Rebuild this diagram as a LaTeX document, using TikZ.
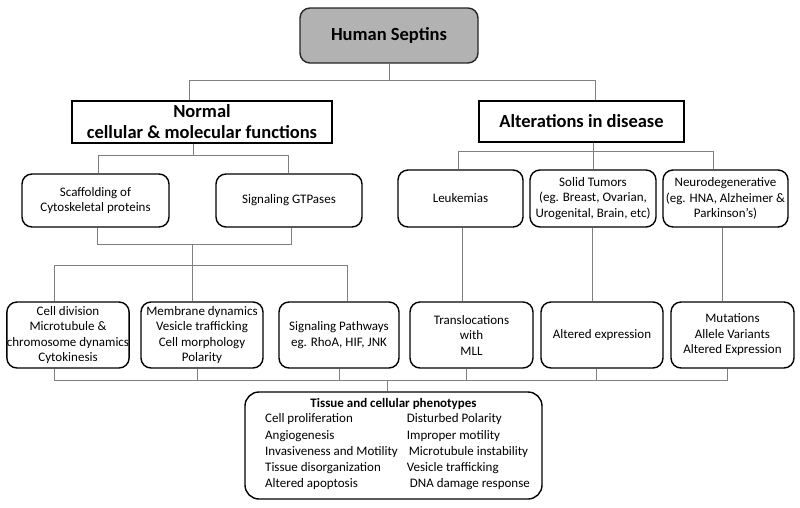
\documentclass[tikz,border=0pt]{standalone}
\usepackage{fontspec}
\setmainfont{Carlito}
\definecolor{wirecol}{RGB}{128,128,128}
\definecolor{headfill}{RGB}{178,178,178}
\begin{document}
\begin{tikzpicture}[x=1pt,y=-1pt,
  rbox/.style={draw=black,line width=1.4pt,rounded corners=10pt,fill=white,inner sep=0pt,align=center,font=\fontsize{13}{15.5}\selectfont},
  sbox/.style={draw=black,line width=2pt,fill=white,inner sep=0pt,align=center,font=\fontsize{18.5}{21}\selectfont\bfseries},
  hbox/.style={draw=black!85,line width=1.4pt,rounded corners=10pt,fill=headfill,inner sep=0pt,align=center,font=\fontsize{18.5}{21}\selectfont\bfseries},
  wire/.style={draw=wirecol,line width=0.9pt}]
\useasboundingbox (0,0) rectangle (800,507);

% levels
\coordinate (L1) at (0,80);
\coordinate (L2) at (0,155);
\coordinate (L3) at (0,244);
\coordinate (L4) at (0,265);
\coordinate (L5) at (0,151);
\coordinate (L6) at (0,380);

% nodes
\node[hbox,minimum width=178pt,minimum height=55pt] (human) at (389,35.5) {Human Septins};
\node[sbox,minimum width=260pt,minimum height=42pt] (normal) at (202,122) {Normal\\cellular \& molecular functions};
\node[sbox,minimum width=205pt,minimum height=41pt] (alter) at (581.5,121.5) {Alterations in disease};

\node[rbox,minimum width=147pt,minimum height=53pt] (scaf) at (95.5,200.5) {Scaffolding of\\Cytoskeletal proteins};
\node[rbox,minimum width=146pt,minimum height=53pt] (gtp) at (289,200.5) {Signaling GTPases};

\node[rbox,minimum width=125pt,minimum height=57pt] (leuk) at (460.5,198.5) {Leukemias};
\node[rbox,minimum width=126pt,minimum height=57pt] (solid) at (593,198.5) {Solid Tumors\\(eg. Breast, Ovarian,\\Urogenital, Brain, etc)};
\node[rbox,minimum width=125pt,minimum height=57pt] (neuro) at (725.5,198.5) {Neurodegenerative\\(eg. HNA, Alzheimer \&\\Parkinson’s)};

\node[rbox,minimum width=122pt,minimum height=66pt] (celld) at (68,335) {Cell division\\Microtubule \&\\chromosome dynamics\\Cytokinesis};
\node[rbox,minimum width=122pt,minimum height=66pt] (memb) at (202,335) {Membrane dynamics\\Vesicle trafficking\\Cell morphology\\Polarity};
\node[rbox,minimum width=120pt,minimum height=66pt] (sigp) at (339,335) {Signaling Pathways\\eg. RhoA, HIF, JNK};
\node[rbox,minimum width=123pt,minimum height=66pt] (transl) at (471.5,335) {Translocations\\with\\MLL};
\node[rbox,minimum width=122pt,minimum height=66pt] (altexp) at (602,335) {Altered expression};
\node[rbox,minimum width=123pt,minimum height=66pt] (mut) at (732.5,335) {Mutations\\Allele Variants\\Altered Expression};

\node[rbox,minimum width=297pt,minimum height=107pt,rounded corners=14pt,font=\fontsize{13}{16.3}\selectfont] (pheno) at (393.5,445.5) {{\bfseries Tissue and cellular phenotypes}\\[1pt]
\hspace*{8pt}\begin{tabular}{@{}l@{\hspace{9pt}}l@{}}
Cell proliferation & Disturbed Polarity\\
Angiogenesis & Improper motility\\
Invasiveness and Motility & \hspace{2pt}Microtubule instability\\
Tissue disorganization & Vesicle trafficking\\
Altered apoptosis & \hspace{3pt}DNA damage response
\end{tabular}};

% connectors: top
\draw[wire] (human.south) -- (human.south |- L1);
\draw[wire] ([xshift=-13pt]normal.north) |- ([xshift=13.5pt]alter.north |- L1) -- ([xshift=13.5pt]alter.north);

% normal branch
\draw[wire] ([xshift=-9pt]normal.south) -- ([xshift=-9pt]normal.south |- L2);
\draw[wire] ([xshift=2.5pt]scaf.north) |- ([xshift=-1pt]gtp.north |- L2) -- ([xshift=-1pt]gtp.north);
\draw[wire] ([xshift=1.5pt]scaf.south) |- ([xshift=2pt]gtp.south |- L3) -- ([xshift=2pt]gtp.south);
\draw[wire] ([xshift=-10pt]memb.north |- L3) -- ([xshift=-10pt]memb.north);
\draw[wire] ([xshift=-14pt]celld.north) |- ([xshift=8pt]sigp.north |- L4) -- ([xshift=8pt]sigp.north);

% disease branch
\draw[wire] (alter.south -| solid.north) -- (solid.north);
\draw[wire] ([xshift=-2.5pt]leuk.north) |- ([xshift=-12.5pt]neuro.north |- L5) -- ([xshift=-12.5pt]neuro.north);
\draw[wire] ([xshift=1.5pt]leuk.south) -- ([xshift=1.5pt]leuk.south |- transl.north);
\draw[wire] ([xshift=-1pt]solid.south) -- ([xshift=-1pt]solid.south |- altexp.north);
\draw[wire] ([xshift=-3.5pt]neuro.south) -- ([xshift=-3.5pt]neuro.south |- mut.north);

% bottom
\draw[wire] ([xshift=-14pt]celld.south) |- ([xshift=-5.5pt]mut.south |- L6) -- ([xshift=-5.5pt]mut.south);
\draw[wire] ([xshift=-5pt]memb.south) -- ([xshift=-5pt]memb.south |- L6);
\draw[wire] (sigp.south) -- (sigp.south |- L6);
\draw[wire] ([xshift=-5.5pt]transl.south) -- ([xshift=-5.5pt]transl.south |- L6);
\draw[wire] ([xshift=-6pt]altexp.south) -- ([xshift=-6pt]altexp.south |- L6);
\draw[wire] ([xshift=-6.5pt]pheno.north |- L6) -- ([xshift=-6.5pt]pheno.north);
\end{tikzpicture}
\end{document}
